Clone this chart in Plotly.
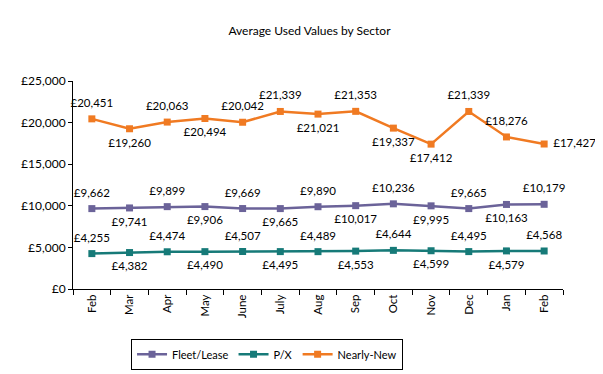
import plotly.graph_objects as go

months = ["Feb", "Mar", "Apr", "May", "June", "July", "Aug", "Sep", "Oct", "Nov", "Dec", "Jan", "Feb"]
fleet = [9662, 9741, 9899, 9906, 9669, 9665, 9890, 10017, 10236, 9995, 9665, 10163, 10179]
px_vals = [4255, 4382, 4474, 4490, 4507, 4495, 4489, 4553, 4644, 4599, 4495, 4579, 4568]
nearly_new = [20451, 19260, 20063, 20494, 20042, 21339, 21021, 21353, 19337, 17412, 21339, 18276, 17427]

alt_pos = ["top center" if i % 2 == 0 else "bottom center" for i in range(13)]
nn_pos = ["top center", "bottom center", "top center", "bottom center", "top center", "top center",
          "bottom center", "top center", "bottom center", "bottom center", "top center", "top center",
          "middle right"]

x = list(range(len(months)))
FONT = "Lato, Open Sans, sans-serif"

def lab(v):
    return "£{:,}".format(v)

fig = go.Figure()
series = [
    ("Fleet/Lease", fleet, "#6B6399", alt_pos),
    ("P/X", px_vals, "#167A78", alt_pos),
    ("Nearly-New", nearly_new, "#F07A22", nn_pos),
]
for name, vals, col, pos in series:
    fig.add_trace(go.Scatter(
        x=x, y=vals, name=name, mode="lines+markers",
        line=dict(color=col, width=2.5),
        marker=dict(symbol="square", size=7, color=col),
        cliponaxis=False,
    ))
for name, vals, col, pos in series:
    fig.add_trace(go.Scatter(
        x=x, y=vals, mode="markers+text", showlegend=False, hoverinfo="skip",
        marker=dict(size=13, color="rgba(0,0,0,0)"),
        text=[lab(v) for v in vals], textposition=pos,
        textfont=dict(size=11.5, color="black", family=FONT),
        cliponaxis=False,
    ))

fig.update_layout(
    width=603, height=374,
    margin=dict(l=65, r=48, t=73, b=91),
    paper_bgcolor="white", plot_bgcolor="white",
    font=dict(family=FONT, size=11, color="black"),
    title=dict(text="Average Used Values by Sector", x=0.5, xanchor="center", y=0.9385,
               yanchor="middle", font=dict(size=12, family=FONT)),
    showlegend=True,
    legend=dict(orientation="h", x=0.396, xanchor="center", y=-0.314, yanchor="middle",
                bordercolor="black", borderwidth=1, font=dict(size=11),
                itemwidth=30, tracegroupgap=0),
)
fig.update_xaxes(
    range=[-0.5, 12.5], tickvals=x, ticktext=months, tickangle=-90,
    ticks="", showline=True, linecolor="black", linewidth=1, showgrid=False, zeroline=False,
    minor=dict(tickvals=[i - 0.5 for i in range(14)], ticks="outside", ticklen=5, tickcolor="black"),
    tickfont=dict(size=11.5),
)
fig.update_yaxes(
    range=[0, 25000], dtick=5000, tickprefix="£", tickformat=",",
    ticks="outside", ticklen=4, tickcolor="black",
    showline=True, linecolor="black", linewidth=1, showgrid=False, zeroline=False,
    tickfont=dict(size=12),
)
fig.write_html("out.html")
